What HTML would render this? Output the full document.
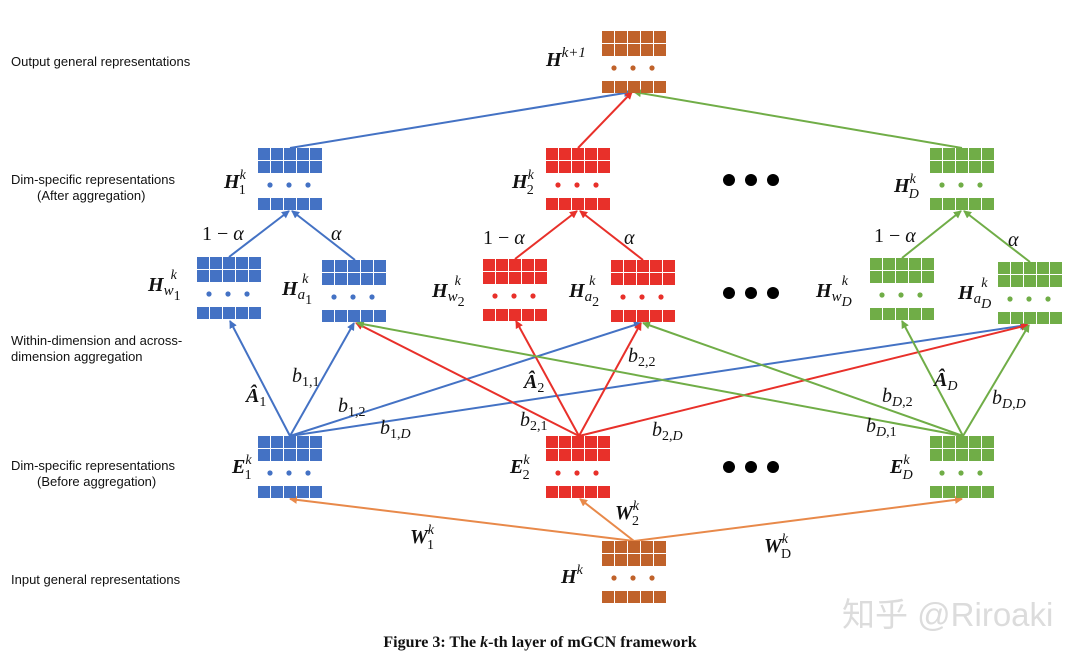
<!DOCTYPE html>
<html><head><meta charset="utf-8"><style>
html,body{margin:0;padding:0;background:#fff;}
svg{display:block;}
.lab{font-family:"Liberation Sans",sans-serif;font-size:13px;fill:#111;}
.m{font-family:"Liberation Serif",serif;font-style:italic;fill:#111;}
.b{font-weight:bold;}
</style></head><body>
<svg width="1080" height="657" viewBox="0 0 1080 657" xmlns="http://www.w3.org/2000/svg">
<defs>
<g id="blk">
<rect x="0" y="0" width="12" height="12"/><rect x="13" y="0" width="12" height="12"/><rect x="26" y="0" width="12" height="12"/><rect x="39" y="0" width="12" height="12"/><rect x="52" y="0" width="12" height="12"/>
<rect x="0" y="13" width="12" height="12"/><rect x="13" y="13" width="12" height="12"/><rect x="26" y="13" width="12" height="12"/><rect x="39" y="13" width="12" height="12"/><rect x="52" y="13" width="12" height="12"/>
<circle cx="12" cy="37" r="2.6"/><circle cx="31" cy="37" r="2.6"/><circle cx="50" cy="37" r="2.6"/>
<rect x="0" y="50" width="12" height="12"/><rect x="13" y="50" width="12" height="12"/><rect x="26" y="50" width="12" height="12"/><rect x="39" y="50" width="12" height="12"/><rect x="52" y="50" width="12" height="12"/>
</g>
<marker id="aB" markerWidth="8" markerHeight="8" refX="7" refY="4" orient="auto" markerUnits="userSpaceOnUse"><path d="M0,0 L8,4 L0,8 z" fill="#4472C4"/></marker>
<marker id="aR" markerWidth="8" markerHeight="8" refX="7" refY="4" orient="auto" markerUnits="userSpaceOnUse"><path d="M0,0 L8,4 L0,8 z" fill="#E8302A"/></marker>
<marker id="aG" markerWidth="8" markerHeight="8" refX="7" refY="4" orient="auto" markerUnits="userSpaceOnUse"><path d="M0,0 L8,4 L0,8 z" fill="#70AD47"/></marker>
<marker id="aO" markerWidth="8" markerHeight="8" refX="7" refY="4" orient="auto" markerUnits="userSpaceOnUse"><path d="M0,0 L8,4 L0,8 z" fill="#E8894A"/></marker>
</defs>

<text class="lab" x="11" y="66">Output general representations</text>
<text class="lab" x="11" y="184">Dim-specific representations</text>
<text class="lab" x="37" y="200">(After aggregation)</text>
<text class="lab" x="11" y="345">Within-dimension and across-</text>
<text class="lab" x="11" y="361">dimension aggregation</text>
<text class="lab" x="11" y="470">Dim-specific representations</text>
<text class="lab" x="37" y="486">(Before aggregation)</text>
<text class="lab" x="11" y="584">Input general representations</text>

<g stroke-width="2" fill="none">
<line x1="290" y1="148" x2="631" y2="92" stroke="#4472C4" marker-end="url(#aB)"/>
<line x1="578" y1="148" x2="632" y2="92" stroke="#E8302A" marker-end="url(#aR)"/>
<line x1="962" y1="148" x2="634" y2="92" stroke="#70AD47" marker-end="url(#aG)"/>

<line x1="229" y1="257" x2="289" y2="211" stroke="#4472C4" marker-end="url(#aB)"/>
<line x1="355" y1="260" x2="292" y2="211" stroke="#4472C4" marker-end="url(#aB)"/>
<line x1="515" y1="259" x2="577" y2="211" stroke="#E8302A" marker-end="url(#aR)"/>
<line x1="643" y1="260" x2="580" y2="211" stroke="#E8302A" marker-end="url(#aR)"/>
<line x1="902" y1="258" x2="961" y2="211" stroke="#70AD47" marker-end="url(#aG)"/>
<line x1="1030" y1="262" x2="964" y2="211" stroke="#70AD47" marker-end="url(#aG)"/>

<line x1="290" y1="436" x2="230" y2="321" stroke="#4472C4" marker-end="url(#aB)"/>
<line x1="290" y1="436" x2="354" y2="323" stroke="#4472C4" marker-end="url(#aB)"/>
<line x1="290" y1="436" x2="641" y2="323" stroke="#4472C4" marker-end="url(#aB)"/>
<line x1="290" y1="436" x2="1027" y2="325" stroke="#4472C4" marker-end="url(#aB)"/>

<line x1="579" y1="436" x2="516" y2="321" stroke="#E8302A" marker-end="url(#aR)"/>
<line x1="579" y1="436" x2="641" y2="323" stroke="#E8302A" marker-end="url(#aR)"/>
<line x1="579" y1="436" x2="356" y2="323" stroke="#E8302A" marker-end="url(#aR)"/>
<line x1="579" y1="436" x2="1028" y2="325" stroke="#E8302A" marker-end="url(#aR)"/>

<line x1="963" y1="436" x2="902" y2="321" stroke="#70AD47" marker-end="url(#aG)"/>
<line x1="963" y1="436" x2="1029" y2="325" stroke="#70AD47" marker-end="url(#aG)"/>
<line x1="963" y1="436" x2="357" y2="323" stroke="#70AD47" marker-end="url(#aG)"/>
<line x1="963" y1="436" x2="643" y2="323" stroke="#70AD47" marker-end="url(#aG)"/>

<line x1="634" y1="541" x2="290" y2="499" stroke="#E8894A" marker-end="url(#aO)"/>
<line x1="634" y1="541" x2="580" y2="499" stroke="#E8894A" marker-end="url(#aO)"/>
<line x1="634" y1="541" x2="962" y2="499" stroke="#E8894A" marker-end="url(#aO)"/>
</g>

<use href="#blk" x="602" y="31" fill="#C0622A"/>
<use href="#blk" x="258" y="148" fill="#4472C4"/>
<use href="#blk" x="546" y="148" fill="#E8302A"/>
<use href="#blk" x="930" y="148" fill="#70AD47"/>
<use href="#blk" x="197" y="257" fill="#4472C4"/>
<use href="#blk" x="322" y="260" fill="#4472C4"/>
<use href="#blk" x="483" y="259" fill="#E8302A"/>
<use href="#blk" x="611" y="260" fill="#E8302A"/>
<use href="#blk" x="870" y="258" fill="#70AD47"/>
<use href="#blk" x="998" y="262" fill="#70AD47"/>
<use href="#blk" x="258" y="436" fill="#4472C4"/>
<use href="#blk" x="546" y="436" fill="#E8302A"/>
<use href="#blk" x="930" y="436" fill="#70AD47"/>
<use href="#blk" x="602" y="541" fill="#C0622A"/>

<g fill="#000">
<circle cx="729" cy="180" r="6"/><circle cx="751" cy="180" r="6"/><circle cx="773" cy="180" r="6"/>
<circle cx="729" cy="293" r="6"/><circle cx="751" cy="293" r="6"/><circle cx="773" cy="293" r="6"/>
<circle cx="729" cy="467" r="6"/><circle cx="751" cy="467" r="6"/><circle cx="773" cy="467" r="6"/>
</g>

<g class="m" font-size="20">
<text x="546" y="66" class="b">H<tspan font-size="15" dy="-9" font-weight="normal">k+1</tspan></text>
<text x="224" y="188" class="b">H<tspan font-size="14" dy="-9" font-weight="normal">k</tspan><tspan font-size="14" dx="-7" dy="15" font-weight="normal" font-style="normal">1</tspan></text>
<text x="512" y="188" class="b">H<tspan font-size="14" dy="-9" font-weight="normal">k</tspan><tspan font-size="14" dx="-7" dy="15" font-weight="normal" font-style="normal">2</tspan></text>
<text x="894" y="192" class="b">H<tspan font-size="14" dy="-9" font-weight="normal">k</tspan><tspan font-size="14" dx="-7" dy="15" font-weight="normal">D</tspan></text>

<text x="202" y="240" font-style="normal">1 − <tspan font-style="italic">α</tspan></text>
<text x="331" y="240">α</text>
<text x="483" y="244" font-style="normal">1 − <tspan font-style="italic">α</tspan></text>
<text x="624" y="244">α</text>
<text x="874" y="242" font-style="normal">1 − <tspan font-style="italic">α</tspan></text>
<text x="1008" y="246">α</text>

<text x="148" y="291" class="b">H<tspan font-size="15" dy="4" font-weight="normal">w</tspan><tspan font-size="14" dy="5" font-weight="normal" font-style="normal">1</tspan><tspan font-size="14" dx="-10" dy="-21" font-weight="normal">k</tspan></text>
<text x="282" y="295" class="b">H<tspan font-size="15" dy="4" font-weight="normal">a</tspan><tspan font-size="14" dy="5" font-weight="normal" font-style="normal">1</tspan><tspan font-size="14" dx="-10" dy="-21" font-weight="normal">k</tspan></text>
<text x="432" y="297" class="b">H<tspan font-size="15" dy="4" font-weight="normal">w</tspan><tspan font-size="14" dy="5" font-weight="normal" font-style="normal">2</tspan><tspan font-size="14" dx="-10" dy="-21" font-weight="normal">k</tspan></text>
<text x="569" y="297" class="b">H<tspan font-size="15" dy="4" font-weight="normal">a</tspan><tspan font-size="14" dy="5" font-weight="normal" font-style="normal">2</tspan><tspan font-size="14" dx="-10" dy="-21" font-weight="normal">k</tspan></text>
<text x="816" y="297" class="b">H<tspan font-size="15" dy="4" font-weight="normal">w</tspan><tspan font-size="14" dy="5" font-weight="normal">D</tspan><tspan font-size="14" dx="-10" dy="-21" font-weight="normal">k</tspan></text>
<text x="958" y="299" class="b">H<tspan font-size="15" dy="4" font-weight="normal">a</tspan><tspan font-size="14" dy="5" font-weight="normal">D</tspan><tspan font-size="14" dx="-10" dy="-21" font-weight="normal">k</tspan></text>

<text x="246" y="402" class="b">Â<tspan font-size="14" dy="4" font-weight="normal" font-style="normal">1</tspan></text>
<text x="292" y="382">b<tspan font-size="14" dy="4" font-style="normal">1,1</tspan></text>
<text x="338" y="412">b<tspan font-size="14" dy="4" font-style="normal">1,2</tspan></text>
<text x="380" y="434">b<tspan font-size="14" dy="4" font-style="normal">1,</tspan><tspan font-size="14">D</tspan></text>
<text x="524" y="388" class="b">Â<tspan font-size="14" dy="4" font-weight="normal" font-style="normal">2</tspan></text>
<text x="628" y="362">b<tspan font-size="14" dy="4" font-style="normal">2,2</tspan></text>
<text x="520" y="426">b<tspan font-size="14" dy="4" font-style="normal">2,1</tspan></text>
<text x="652" y="436">b<tspan font-size="14" dy="4" font-style="normal">2,</tspan><tspan font-size="14">D</tspan></text>
<text x="934" y="386" class="b">Â<tspan font-size="14" dy="4" font-weight="normal">D</tspan></text>
<text x="882" y="402">b<tspan font-size="14" dy="4">D</tspan><tspan font-size="14" font-style="normal">,2</tspan></text>
<text x="866" y="432">b<tspan font-size="14" dy="4">D</tspan><tspan font-size="14" font-style="normal">,1</tspan></text>
<text x="992" y="404">b<tspan font-size="14" dy="4">D</tspan><tspan font-size="14" font-style="normal">,</tspan><tspan font-size="14">D</tspan></text>

<text x="232" y="473" class="b">E<tspan font-size="14" dy="-9" font-weight="normal">k</tspan><tspan font-size="14" dx="-7" dy="15" font-weight="normal" font-style="normal">1</tspan></text>
<text x="510" y="473" class="b">E<tspan font-size="14" dy="-9" font-weight="normal">k</tspan><tspan font-size="14" dx="-7" dy="15" font-weight="normal" font-style="normal">2</tspan></text>
<text x="890" y="473" class="b">E<tspan font-size="14" dy="-9" font-weight="normal">k</tspan><tspan font-size="14" dx="-7" dy="15" font-weight="normal">D</tspan></text>

<text x="410" y="543" class="b">W<tspan font-size="14" dy="-9" font-weight="normal">k</tspan><tspan font-size="14" dx="-7" dy="15" font-weight="normal" font-style="normal">1</tspan></text>
<text x="615" y="519" class="b">W<tspan font-size="14" dy="-9" font-weight="normal">k</tspan><tspan font-size="14" dx="-7" dy="15" font-weight="normal" font-style="normal">2</tspan></text>
<text x="764" y="552" class="b">W<tspan font-size="14" dy="-9" font-weight="normal">k</tspan><tspan font-size="14" dx="-7" dy="15" font-weight="normal" font-style="normal">D</tspan></text>
<text x="561" y="583" class="b">H<tspan font-size="14" dy="-9" font-weight="normal">k</tspan></text>
</g>

<text x="842" y="626" font-family="Liberation Sans,'Noto Sans CJK SC',sans-serif" font-size="33" fill="#dcdcdc">知乎 @Riroaki</text>
<text x="540" y="647" text-anchor="middle" font-family="Liberation Serif,serif" font-weight="bold" font-size="16" fill="#111">Figure 3: The <tspan font-style="italic">k</tspan>-th layer of mGCN framework</text>
</svg>
</body></html>
